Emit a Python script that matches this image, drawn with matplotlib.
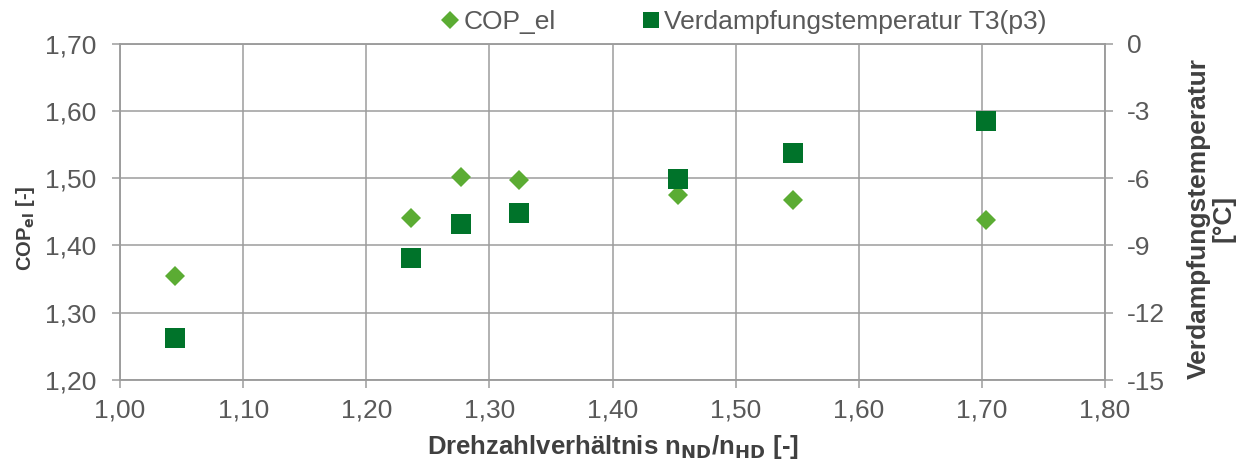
import matplotlib
matplotlib.use("Agg")
import matplotlib.pyplot as plt
from matplotlib.ticker import FuncFormatter
from matplotlib.lines import Line2D

plt.rcParams['font.family'] = ['Liberation Sans', 'DejaVu Sans']
plt.rcParams['axes.unicode_minus'] = False
plt.rcParams['mathtext.default'] = 'bf'

# data
drehzahl = [1.045, 1.236, 1.277, 1.324, 1.453, 1.547, 1.703]
cop_el = [1.355, 1.441, 1.502, 1.497, 1.475, 1.467, 1.438]
t_verd = [-13.13, -9.58, -8.05, -7.57, -6.04, -4.87, -3.47]

x_ticks = [1.0, 1.1, 1.2, 1.3, 1.4, 1.5, 1.6, 1.7, 1.8]
y1_ticks = [1.2, 1.3, 1.4, 1.5, 1.6, 1.7]
y2_ticks = [-15, -12, -9, -6, -3, 0]

GRID = '#9c9c9c'
TICKC = '#595959'
LABC = '#404040'
C_COP = '#5BAC33'
C_T = '#00732A'

fig = plt.figure(figsize=(12.47, 4.62), dpi=100)
ax1 = fig.add_axes([120/1247, 1-380/462, 985/1247, 336.5/462])
ax2 = ax1.twinx()

ax1.set_xlim(1.0, 1.8)
ax1.set_ylim(1.2, 1.7)
ax2.set_ylim(-15, 0)
ax1.set_xticks(x_ticks)
ax1.set_yticks(y1_ticks)
ax2.set_yticks(y2_ticks)

comma2 = FuncFormatter(lambda v, p: f"{v:.2f}".replace('.', ','))
ax1.xaxis.set_major_formatter(comma2)
ax1.yaxis.set_major_formatter(comma2)
ax2.yaxis.set_major_formatter(FuncFormatter(lambda v, p: f"{int(round(v))}"))

ax1.grid(True, color=GRID, linewidth=1.1)
ax1.set_axisbelow(True)
for ax in (ax1, ax2):
    for s in ax.spines.values():
        s.set_color(GRID)
        s.set_linewidth(1.1)

ax1.tick_params(axis='y', direction='out', length=6, width=1.1, color=GRID,
                labelsize=19, labelcolor=TICKC, pad=11)
ax1.tick_params(axis='x', direction='out', length=6, width=1.1, color=GRID,
                labelsize=19, labelcolor=TICKC, pad=7)
ax2.tick_params(axis='y', direction='out', length=6, width=1.1, color=GRID,
                labelsize=19, labelcolor=TICKC, pad=9.5)

ax1.plot(drehzahl, cop_el, linestyle='none', marker='D', markersize=10.2,
         markeredgewidth=0, color=C_COP, clip_on=False, zorder=3)
ax2.plot(drehzahl, t_verd, linestyle='none', marker='s', markersize=14.4,
         markeredgewidth=0, color=C_T, clip_on=False, zorder=3)

ax1.set_xlabel(r"Drehzahlverhältnis n$_{\mathbf{ND}}$/n$_{\mathbf{HD}}$ [-]",
               fontsize=18.5, fontweight='bold', color=LABC, va='center')
ax1.xaxis.set_label_coords(0.5, -0.2)
ax1.set_ylabel(r"COP$_{\mathbf{el}}$ [-]", fontsize=14.5, fontweight='bold',
               color=LABC, va='center')
ax1.yaxis.set_label_coords(-0.0964, 0.45)
ax2.set_ylabel("Verdampfungstemperatur\n[°C]", fontsize=19, fontweight='bold',
               color=LABC, linespacing=1.05, rotation=90, va='center')
ax2.yaxis.set_label_coords(1.1076, 0.481)

handles = [Line2D([], [], linestyle='none', marker='D', markersize=9,
                  markeredgewidth=0, color=C_COP),
           Line2D([], [], linestyle='none', marker='s', markersize=12,
                  markeredgewidth=0, color=C_T)]
leg = ax2.legend(handles, ['COP_el', 'Verdampfungstemperatur T3(p3)'],
                 loc='center', bbox_to_anchor=(0.634, 1.064), ncol=2,
                 frameon=False, fontsize=19, handlelength=0.6,
                 handletextpad=0.2, columnspacing=3.3, borderaxespad=0,
                 borderpad=0)
for t in leg.get_texts():
    t.set_color(TICKC)

fig.savefig('out.png', dpi=100)
